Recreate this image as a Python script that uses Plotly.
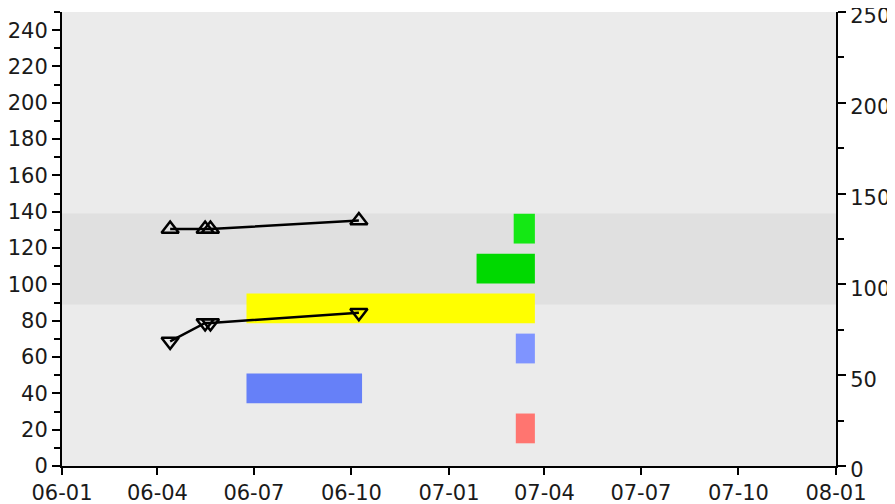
import plotly.graph_objects as go

# ---- data ----
line_dates = ["2006-04-13", "2006-05-16", "2006-05-21", "2006-10-08"]
upper_vals = [130.5, 130.5, 130.5, 135.2]
lower_vals = [68.6, 78.8, 78.8, 84.4]

bar_starts = ["2007-03-05", "2006-06-24", "2007-03-05", "2006-06-24", "2007-01-27", "2007-03-03"]
bar_ends   = ["2007-03-23", "2006-10-11", "2007-03-23", "2007-03-23", "2007-03-23", "2007-03-23"]
bar_lows   = [12.5, 34.5, 56.5, 78.6, 100.5, 122.5]
bar_highs  = [28.9, 50.9, 72.9, 95.0, 116.9, 138.9]
bar_colors = ["#ff7570", "#6680f8", "#7f94ff", "#ffff00", "#00d900", "#14e814"]

band_low, band_high = 89, 139

fig = go.Figure()

shapes = [dict(type="rect", xref="paper", yref="y", x0=0, x1=1, y0=band_low, y1=band_high,
               fillcolor="#e0e0e0", line=dict(width=0), layer="below")]
for s, e, lo, hi, c in zip(bar_starts, bar_ends, bar_lows, bar_highs, bar_colors):
    shapes.append(dict(type="rect", xref="x", yref="y", x0=s, x1=e, y0=lo, y1=hi,
                       fillcolor=c, line=dict(width=0), layer="below"))

fig.add_trace(go.Scatter(x=line_dates, y=upper_vals, mode="lines+markers",
                         line=dict(color="black", width=2.5),
                         marker=dict(symbol="triangle-up-open", size=15, color="black",
                                     line=dict(width=2.5, color="black")),
                         showlegend=False))
fig.add_trace(go.Scatter(x=line_dates, y=lower_vals, mode="lines+markers",
                         line=dict(color="black", width=2.5),
                         marker=dict(symbol="triangle-down-open", size=15, color="black",
                                     line=dict(width=2.5, color="black")),
                         showlegend=False))
fig.add_trace(go.Scatter(x=[None], y=[None], yaxis="y2", showlegend=False))

font = dict(family="DejaVu Sans", size=21, color="#1a1a1a")
fig.update_layout(
    width=887, height=496,
    margin=dict(l=54, r=59, t=4, b=38),
    paper_bgcolor="white", plot_bgcolor="#ebebeb",
    shapes=shapes,
    font=font,
    xaxis=dict(type="date", range=["2006-01-01", "2008-01-01"], dtick="M3", tick0="2006-01-01",
               tickformat="%y-%m", ticks="outside", ticklen=7, tickwidth=2, tickcolor="black",
               showline=True, linewidth=2, linecolor="black", showgrid=False, zeroline=False,
               tickfont=font, automargin=False, ticklabeloverflow="allow"),
    yaxis=dict(range=[0, 250], dtick=20, tick0=0, ticks="outside", ticklen=8, tickwidth=2,
               tickcolor="black", showline=True, linewidth=2, linecolor="black",
               showgrid=False, zeroline=False, tickfont=font, automargin=False,
               ticklabeloverflow="allow",
               minor=dict(dtick=10, ticks="outside", ticklen=6, tickwidth=2, tickcolor="black", showgrid=False)),
    yaxis2=dict(range=[0, 250], dtick=50, tick0=0, overlaying="y", side="right",
                ticks="outside", ticklen=8, tickwidth=2, tickcolor="black",
                showline=True, linewidth=2, linecolor="black", showgrid=False, zeroline=False,
                tickfont=font, automargin=False, ticklabeloverflow="allow", ticklabelshift=4,
                minor=dict(dtick=25, ticks="outside", ticklen=6, tickwidth=2, tickcolor="black", showgrid=False)),
)

fig.write_html("out.html")
